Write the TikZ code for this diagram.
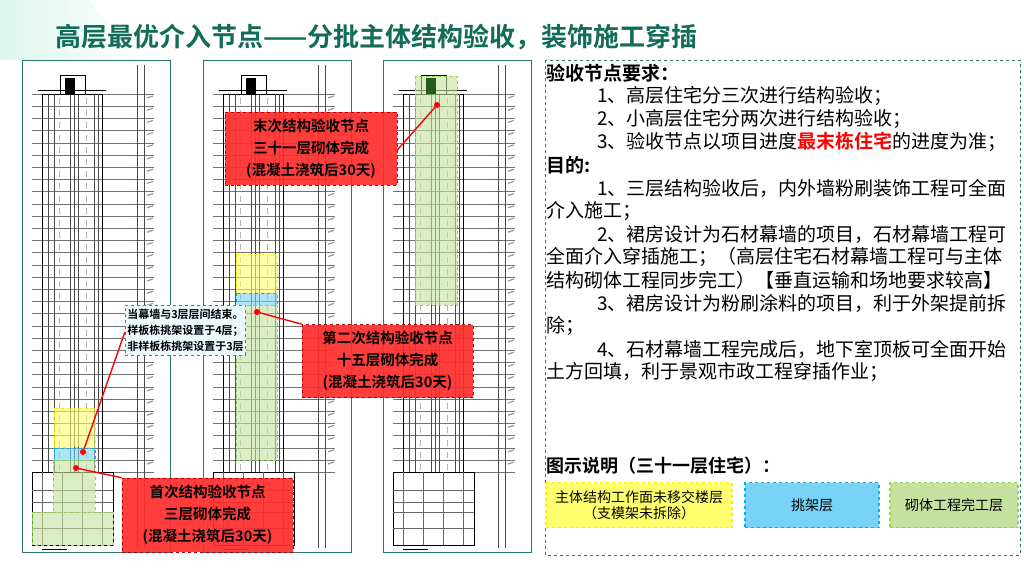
\documentclass[tikz,border=0pt]{standalone}
\usepackage{fontspec}
\setmainfont{Noto Sans CJK SC}[BoldFont={Noto Sans CJK SC Bold}]
\usetikzlibrary{calc}
\definecolor{ttl}{RGB}{18,108,88}
\definecolor{frm}{RGB}{40,120,110}
\definecolor{rbox}{RGB}{255,45,45}
\definecolor{ylw}{RGB}{255,255,110}
\definecolor{ylwb}{RGB}{255,240,0}
\definecolor{blu}{RGB}{120,210,245}
\definecolor{blub}{RGB}{0,176,240}
\definecolor{grn}{RGB}{197,225,160}
\definecolor{grnb}{RGB}{146,208,80}
\definecolor{mint}{RGB}{200,240,225}
\newcommand\mybldg{%
  \draw[frm,line width=0.8pt] (0,60) rectangle (148,552);
  \foreach \i in {0,...,31} \draw[black!55,line width=0.35pt] (10,{94+\i*12.2}) -- (132,{94+\i*12.2});
  \draw[black,line width=0.9pt] (20,94) rectangle (80,472);
  \foreach \x in {26,32,48,52,56,72,76} \draw[black!70,line width=0.4pt] (\x,94) -- (\x,472);
  \foreach \i in {0,...,30} {
    \draw[black!30,line width=0.25pt] (37,{98+\i*12.2}) -- (37,{104+\i*12.2});
    \draw[black!30,line width=0.25pt] (64,{98+\i*12.2}) -- (64,{104+\i*12.2});
    \draw[black!60,line width=0.4pt] (112,{94+\i*12.2}) -- (118,{94+\i*12.2});
    \draw[black!40,line width=1.2pt] (125,{98+\i*12.2}) -- (131,{96+\i*12.2});
  }
  \draw[black,line width=0.6pt] (38,75) rectangle (63,94);
  \fill[black] (43,78) rectangle (53,94);
  \draw[black,line width=0.5pt] (16,90) -- (84,90);
  \draw[black!70,line width=0.5pt] (115,65) -- (115,548);
  \draw[black!70,line width=0.5pt] (122,65) -- (122,548);
  \draw[black,line width=0.6pt] (10,472) rectangle (91,545);
  \foreach \y in {490,502,512,528} \draw[black!60,line width=0.4pt] (10,\y) -- (91,\y);
  \foreach \x in {20,40,60,80} \draw[black!60,line width=0.4pt] (\x,472) -- (\x,545);
  \draw[black,line width=0.4pt] (20,549) -- (45,549);
}
\tikzset{
  shade/.style={fill opacity=0.6,draw opacity=1,dashed,line width=0.8pt},
  redbox/.style={fill=rbox,fill opacity=0.92,text opacity=1,draw=red!70!black,dashed,line width=0.6pt,
     align=center,font=\bfseries\fontsize{14.5}{22}\selectfont,inner sep=2pt},
  conn/.style={red,line width=1.4pt},
  dot/.style={circle,fill=red,inner sep=0pt,minimum size=6pt},
  txt/.style={anchor=west,inner sep=0pt,font=\fontsize{19}{21}\selectfont},
  legend/.style={dashed,line width=1.3pt,align=center,font=\fontsize{14}{16}\selectfont,inner sep=0pt}
}
\begin{document}
\begin{tikzpicture}[x=1pt,y=-1pt]
\useasboundingbox (0,0) rectangle (1024,576);
\fill[white] (0,0) rectangle (1024,576);
\shade[left color=mint,right color=white] (0,0) -- (90,0) .. controls (110,30) and (130,50) .. (150,60) -- (0,60) -- cycle;
\node[anchor=west,inner sep=0pt,text=ttl,font=\bfseries\fontsize{26}{28}\selectfont] (title) at (55,37) {高层最优介入节点——分批主体结构验收，装饰施工穿插};
% panels
\begin{scope}[xshift=22pt]\mybldg
 \draw[ylwb,fill=ylw,shade] (32,408) rectangle (73,447);
 \draw[blub,fill=blu,shade] (32,448) rectangle (73,460);
 \draw[grnb,fill=grn,shade] (31,460) rectangle (73,512);
 \draw[grnb,fill=grn,shade] (10,512) rectangle (91,545);
\end{scope}
\begin{scope}[xshift=203pt]\mybldg
 \draw[ylwb,fill=ylw,shade] (33,254) rectangle (74,293);
 \draw[blub,fill=blu,shade] (33,293) rectangle (74,305);
 \draw[grnb,fill=grn,shade] (33,305) rectangle (74,460);
\end{scope}
\begin{scope}[xshift=383pt]\mybldg
 \draw[grnb,fill=grn,shade] (32,76) rectangle (74,305);
 \fill[green!30!black,opacity=0.7] (43,78) rectangle (53,94);
\end{scope}
% dots
\node[dot] (d3) at (437,105) {};
\node[dot] (d2) at (257,312) {};
\node[dot] (d1) at (76,468) {};
\node[dot] (dn) at (83,452) {};
% boxes
\node[redbox,minimum width=172pt,minimum height=73pt] (bA) at (311,148.5) {末次结构验收节点\\三十一层砌体完成\\(混凝土浇筑后30天)};
\node[redbox,minimum width=171pt,minimum height=73pt] (bC) at (387.5,361) {第二次结构验收节点\\十五层砌体完成\\(混凝土浇筑后30天)};
\node[redbox,minimum width=171pt,minimum height=74pt] (bB) at (207.5,515) {首次结构验收节点\\三层砌体完成\\(混凝土浇筑后30天)};
\node[fill=cyan!8,draw=red!80,dashed,line width=0.8pt,align=left,inner sep=2pt,
  font=\bfseries\fontsize{11}{16}\selectfont,minimum width=115pt,minimum height=50pt] (note) at (185.5,330) {当幕墙与3层层间结束。\\样板栋挑架设置于4层；\\非样板栋挑架设置于3层};
\draw[conn] (d3) -- (bA.east |- 0,150);
\draw[conn] (d2) -- (bC.north west);
\draw[conn] (d1) -- (bB.north west);
\draw[conn] (dn) -- (note.west |- 0,332);
% right text panel
\draw[frm,dashed,line width=0.8pt] (545,60) rectangle (1020,555);
\node[txt,font=\bfseries\fontsize{19}{21}\selectfont] (h1) at (546,73) {验收节点要求：};
\node[txt] (a1) at (597,96) {1、高层住宅分三次进行结构验收；};
\node[txt] (a2) at (597,119) {2、小高层住宅分两次进行结构验收；};
\node[txt] (a3) at (597,142) {3、验收节点以项目进度\textcolor{red}{\bfseries 最末栋住宅}的进度为准；};
\node[txt,font=\bfseries\fontsize{19}{21}\selectfont] (h2) at (546,165) {目的:};
\node[txt] (b1) at (597,188) {1、三层结构验收后，内外墙粉刷装饰工程可全面};
\node[txt] (b1b) at (546,211) {介入施工；};
\node[txt] (b2) at (597,234) {2、裙房设计为石材幕墙的项目，石材幕墙工程可};
\node[txt] (b2b) at (546,257) {全面介入穿插施工；（高层住宅石材幕墙工程可与主体};
\node[txt] (b2c) at (546,280) {结构砌体工程同步完工）【垂直运输和场地要求较高】};
\node[txt] (b3) at (597,303) {3、裙房设计为粉刷涂料的项目，利于外架提前拆};
\node[txt] (b3b) at (546,326) {除；};
\node[txt] (b4) at (597,349) {4、石材幕墙工程完成后，地下室顶板可全面开始};
\node[txt] (b4b) at (546,372) {土方回填，利于景观市政工程穿插作业；};
\node[txt,font=\bfseries\fontsize{18}{20}\selectfont] (h3) at (546,466) {图示说明（三十一层住宅）：};
\node[legend,draw=ylwb,fill=ylw,minimum width=186pt,minimum height=45pt] (l1) at (639,505) {主体结构工作面未移交楼层\\（支模架未拆除）};
\node[legend,draw=blub,fill=blu,minimum width=134pt,minimum height=45pt] (l2) at (812,505) {挑架层};
\node[legend,draw=grnb,fill=grn,minimum width=128pt,minimum height=45pt] (l3) at (954,505) {砌体工程完工层};
\end{tikzpicture}
\end{document}
